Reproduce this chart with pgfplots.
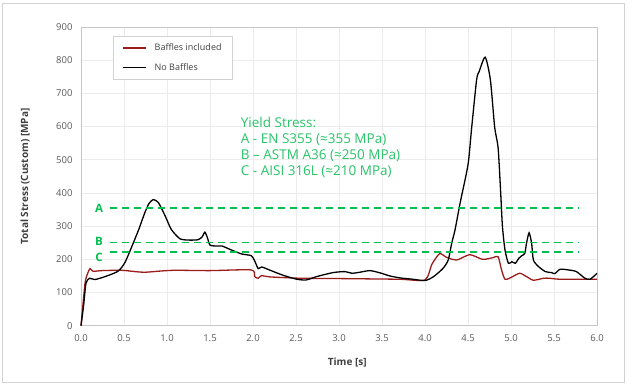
\documentclass[border=0pt]{standalone}
\usepackage{fontspec}
\setmainfont{Open Sans}
\usepackage{pgfplots}
\pgfplotsset{compat=1.18}
\definecolor{redline}{RGB}{155,28,28}
\definecolor{dashgreen}{RGB}{0,190,80}
\definecolor{txtgreen}{RGB}{40,195,105}
\definecolor{ticktxt}{RGB}{89,89,89}
\definecolor{labtxt}{RGB}{64,64,64}
\begin{document}
\begin{tikzpicture}
\begin{axis}[
  width=516pt, height=298.7pt, scale only axis,
  xmin=0, xmax=6, ymin=0, ymax=900,
  xtick={0,0.5,...,6}, ytick={0,100,...,900},
  /pgf/number format/assume math mode=true,
  xticklabel style={/pgf/number format/fixed, /pgf/number format/fixed zerofill, /pgf/number format/precision=1, yshift=-5pt},
  yticklabel style={xshift=-5pt},
  ticklabel style={font=\fontsize{9.5}{11}\selectfont, text=ticktxt},
  major tick length=0pt,
  grid=major, major grid style={draw=gray!15, line width=0.6pt},
  axis line style={draw=gray!45, line width=0.7pt},
  xlabel={\textbf{Time [s]}}, ylabel={\textbf{Total Stress (Custom) [MPa]}},
  label style={font=\fontsize{10}{12}\selectfont, text=labtxt},
  xlabel style={at={(rel axis cs:0.516,-0.1215)}, anchor=center},
  ylabel style={at={(rel axis cs:-0.1085,0.5)}, anchor=center},
  clip=false,
  legend style={at={(rel axis cs:0.062,0.971)}, anchor=north west, draw=gray!35,
    inner xsep=9pt, inner ysep=6pt, row sep=7pt,
    font=\fontsize{9}{10}\selectfont, text=labtxt, nodes={inner sep=2pt}},
  legend cell align=left,
  legend image code/.code={\draw[#1, line width=1.5pt] (0pt,0pt) -- (23pt,0pt);},
  /tikz/every odd column/.append style={column sep=6pt},
]
% outer border and bounding box
\path (rel axis cs:-0.15698,-0.2052) rectangle (rel axis cs:1.0620,1.0904);
\draw[gray!35, line width=1pt] (rel axis cs:-0.1512,-0.1918) rectangle (rel axis cs:1.0523,1.0803);

\addplot[redline, line width=1.3pt, smooth, tension=0.4] coordinates {
(0,0) (0.047,128) (0.078,158) (0.105,172) (0.14,164) (0.24,166) (0.47,167)
(0.63,163) (0.74,161) (0.94,165) (1.10,167) (1.5,166) (1.98,168) (2.02,148)
(2.06,143) (2.10,151) (2.2,147) (2.55,143) (3.0,142) (3.7,140) (4.0,138)
(4.08,185) (4.17,217) (4.25,206) (4.37,198) (4.52,214) (4.67,200) (4.79,205)
(4.85,208) (4.89,168) (4.93,140) (4.99,144) (5.10,158) (5.18,148) (5.26,137)
(5.38,143) (5.45,143) (5.57,140) (6.0,140)
};
\addlegendentry{Baffles included}
\addplot[black, line width=1.3pt, smooth, tension=0.4] coordinates {
(0,0) (0.03,60) (0.058,128) (0.1,143) (0.16,139) (0.28,148) (0.43,164)
(0.51,190) (0.59,238) (0.67,289) (0.74,339) (0.79,368) (0.84,380)
(0.90,371) (0.98,330) (1.05,290) (1.15,262) (1.25,258) (1.36,259) (1.41,268)
(1.44,282) (1.47,265) (1.50,243) (1.58,240) (1.64,240) (1.75,228) (1.87,216)
(1.98,211) (2.02,195) (2.06,172) (2.10,177) (2.2,167) (2.35,152) (2.51,140)
(2.62,138) (2.74,148) (2.93,160) (3.07,163) (3.15,158) (3.24,161) (3.36,166)
(3.48,159) (3.59,150) (3.71,144) (3.86,140) (4.0,136) (4.10,148) (4.21,173)
(4.27,198) (4.31,248) (4.35,290) (4.41,372) (4.50,485) (4.54,590) (4.60,741)
(4.63,766) (4.70,809) (4.76,741) (4.81,598) (4.85,536) (4.88,400) (4.90,300)
(4.93,228) (4.97,188) (5.01,193) (5.05,188) (5.09,203) (5.12,210) (5.16,218)
(5.18,248) (5.21,280) (5.24,248) (5.26,198) (5.32,178) (5.40,163) (5.47,160)
(5.51,157) (5.57,170) (5.67,168) (5.76,163) (5.86,143) (5.92,140) (6.0,158)
};
\addlegendentry{No Baffles}

\addplot[dashgreen, line width=1.4pt, dash pattern=on 7pt off 5pt, forget plot] coordinates {(0.34,355) (5.79,355)};
\addplot[dashgreen, line width=1.4pt, dash pattern=on 7pt off 5pt, forget plot] coordinates {(0.34,250) (5.79,250)};
\addplot[dashgreen, line width=1.4pt, dash pattern=on 7pt off 5pt, forget plot] coordinates {(0.34,222) (5.79,222)};

\node[text=dashgreen, font=\fontsize{11.5}{13}\selectfont\bfseries] at (axis cs:0.21,353) {A};
\node[text=dashgreen, font=\fontsize{11.5}{13}\selectfont\bfseries] at (axis cs:0.21,255) {B};
\node[text=dashgreen, font=\fontsize{11.5}{13}\selectfont\bfseries] at (axis cs:0.21,207) {C};

\node[anchor=north west, align=left, text=txtgreen, font=\fontsize{13.5}{16.3}\selectfont, inner sep=0pt]
  at (axis cs:1.857,630) {Yield Stress:\\A - EN S355 (≈355 MPa)\\B – ASTM A36 (≈250 MPa)\\C - AISI 316L (≈210 MPa)};
\end{axis}
\end{tikzpicture}
\end{document}
